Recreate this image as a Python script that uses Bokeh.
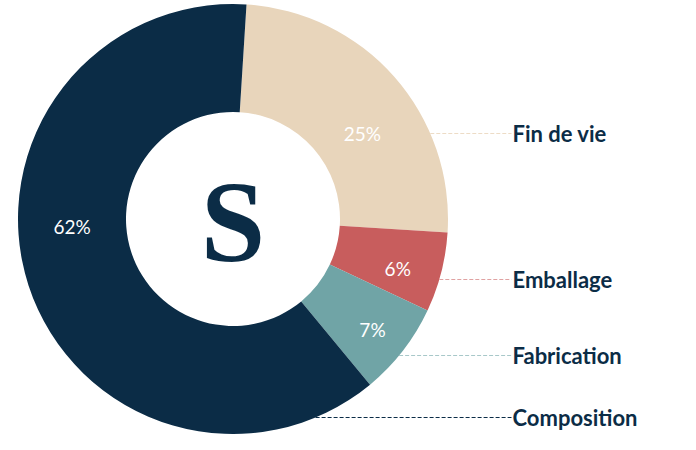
import math
from bokeh.plotting import figure
from bokeh.models import ColumnDataSource, Range1d
from bokeh.core.properties import value
from bokeh.embed import file_html
from bokeh.resources import INLINE

# ---- data ----
categories = ["Fin de vie", "Emballage", "Fabrication", "Composition"]
percents = [25, 6, 7, 62]
pct_labels = ["25%", "6%", "7%", "62%"]

# ---- styling / layout ----
colors = ["#e8d5bb", "#c85d5d", "#70a4a6", "#0b2c46"]
leader_colors = ["#eddcc6", "#e0a2a2", "#a8c8c9", "#0b2c46"]
navy = "#0b2c46"
W, H = 680, 434
cx, cy = 232.5, 215.5          # donut centre (plot units = pixels)
r_out, r_in = 215, 107
start_deg = 86.4               # first slice starts just right of top, clockwise
label_angle_deg = [33.4, -16.7, -38.4, 182.7]
label_radius = [155, 172, 178, 161]
name_y = [301, 155, 79, 17]    # y of right-hand category labels
name_x = 512

# wedge angles
starts, ends = [], []
a = start_deg
for pc in percents:
    starts.append(math.radians(a))
    a -= pc * 3.6
    ends.append(math.radians(a))

p = figure(width=W, height=H, output_backend="svg", toolbar_location=None,
           x_range=Range1d(0, W), y_range=Range1d(0, H), min_border=0)
p.axis.visible = False
p.grid.visible = False
p.outline_line_color = None
p.background_fill_color = "white"
p.border_fill_color = "white"

src = ColumnDataSource(dict(start=starts, end=ends, color=colors))
p.annular_wedge(x=cx, y=cy, inner_radius=r_in, outer_radius=r_out,
                start_angle="start", end_angle="end", direction="clock",
                fill_color="color", line_color=None, source=src)

# percentage labels
lx = [cx + r * math.cos(math.radians(t)) for r, t in zip(label_radius, label_angle_deg)]
ly = [cy + r * math.sin(math.radians(t)) for r, t in zip(label_radius, label_angle_deg)]
p.text(x=lx, y=ly, text=pct_labels, text_color="white", text_font=value("Lato"),
       text_font_size="19px", text_align="center", text_baseline="middle")

# leader lines from donut edge to labels
for y, c in zip(name_y, leader_colors):
    dy = y - cy
    x0 = cx + math.sqrt(max(r_out ** 2 - dy ** 2, 0))
    p.line(x=[x0, name_x - 1], y=[y, y], line_color=c, line_width=1, line_dash="4 2")

p.text(x=[name_x] * 4, y=name_y, text=categories, text_color=navy,
       text_font=value("Lato"), text_font_style="bold", text_font_size="22px",
       text_align="left", text_baseline="middle")

# centre logo
p.text(x=[cx], y=[cy - 2.5], text=["S"], text_color=navy,
       text_font=value("Liberation Serif"), text_font_style="bold",
       text_font_size="116px", text_align="center", text_baseline="alphabetic")

open("out.html", "w").write(file_html(p, INLINE))
